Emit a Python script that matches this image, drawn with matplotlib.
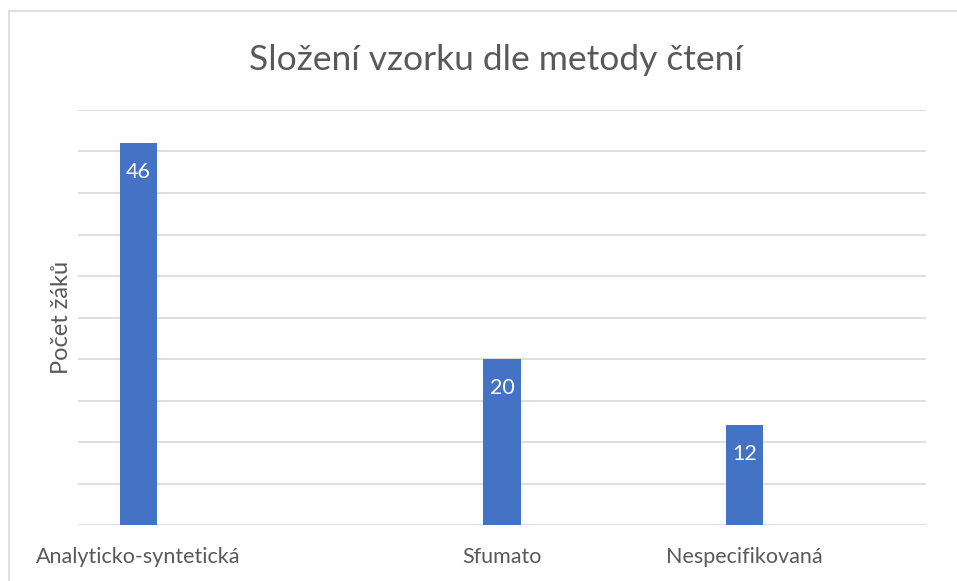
import matplotlib.pyplot as plt
from matplotlib.lines import Line2D

# categories (empty slots keep the uneven spacing of the original)
categories = ["Analyticko-syntetická", "", "", "Sfumato", "", "Nespecifikovaná", ""]
values = [46, None, None, 20, None, 12, None]

plt.rcParams['font.family'] = ['Lato', 'DejaVu Sans']

fig = plt.figure(figsize=(9.57, 5.81), dpi=100)
ax = fig.add_axes([78 / 957, 1 - 525 / 581, (926 - 78) / 957, (525 - 110) / 581])

xs = [i for i, v in enumerate(values) if v is not None]
hs = [v for v in values if v is not None]
bars = ax.bar(xs, hs, width=0.31, color='#4472C4', zorder=3)

for b, h in zip(bars, hs):
    ax.text(b.get_x() + b.get_width() / 2, h - 3.5, str(h),
            ha='center', va='center', color='white', fontsize=15.5)

ax.set_xlim(-0.5, len(categories) - 0.5)
ax.set_ylim(0, 50)
ax.set_yticks(range(0, 51, 5))
ax.set_yticklabels([])
ax.set_xticks(range(len(categories)))
ax.set_xticklabels(categories, fontsize=15.5, color='#595959')
ax.tick_params(axis='x', length=0, pad=16)
ax.tick_params(axis='y', length=0, pad=0)
ax.yaxis.grid(True, color='#d9d9d9', linewidth=1.2, zorder=0)
for s in ax.spines.values():
    s.set_visible(False)

ax.set_ylabel("Počet žáků", fontsize=17, color='#595959', labelpad=4)
fig.text(496 / 957, 1 - 60 / 581, "Složení vzorku dle metody čtení",
         ha='center', va='center', fontsize=25.5, color='#595959')

# chart frame (only left and top visible in the crop)
fig.add_artist(Line2D([9 / 957, 9 / 957], [0, 1 - 11 / 581], color='#d9d9d9', lw=1.2))
fig.add_artist(Line2D([9 / 957, 1], [1 - 11 / 581, 1 - 11 / 581], color='#d9d9d9', lw=1.2))

fig.savefig("out.png", dpi=100)
